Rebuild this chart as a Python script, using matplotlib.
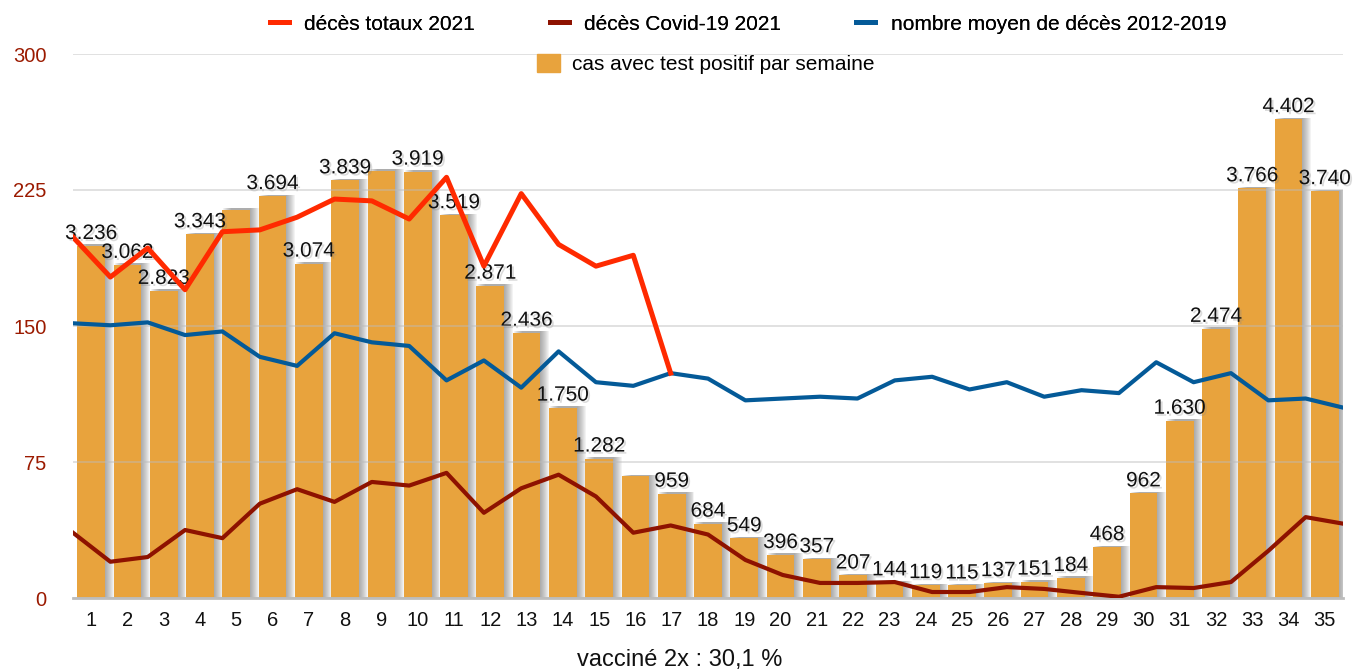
import matplotlib.pyplot as plt
from matplotlib.lines import Line2D
from matplotlib.patches import Patch
import matplotlib.patheffects as pe

plt.rcParams['font.family'] = ['Liberation Sans', 'DejaVu Sans']

# semaines 1..35
semaines = list(range(1, 36))

# cas avec test positif par semaine (barres, échelle cachée 0-5000)
cas = [3236, 3062, 2823, 3343, 3570, 3694, 3074, 3839, 3925, 3919,
       3519, 2871, 2436, 1750, 1282, 1120, 959, 684, 549, 396,
       357, 207, 144, 119, 115, 137, 151, 184, 468, 962,
       1630, 2474, 3766, 4402, 3740]
# étiquettes absentes sur le graphique d'origine
sans_etiquette = [5, 9, 16]

# décès totaux 2021 (s'arrête à la semaine 17)
deces_totaux = [199, 177, 193, 170, 202, 203, 210, 220, 219, 209,
                232, 183, 223, 195, 183, 189, 124]
# décès Covid-19 2021
deces_covid = [36, 20, 22.6, 37.5, 33, 52, 60, 53, 64, 62,
               69, 47, 60.5, 68, 56, 36, 40, 35, 21, 12.7,
               8.3, 8.3, 8.8, 3.3, 3.3, 6, 5, 2.8, 0.7, 6,
               5.5, 8.8, 26, 44.6, 41]
# nombre moyen de décès 2012-2019
deces_moyen = [151.5, 150.4, 152, 145, 147, 133, 128, 146, 141, 139,
               120, 131, 116, 136, 119, 117, 124, 121, 109, 110,
               111, 110, 120, 122, 115, 119, 111, 114.6, 113, 130,
               119, 124, 109, 110, 105]

c_rouge = '#ff2a00'
c_bordeaux = '#8e1200'
c_bleu = '#045a98'
c_barre = '#e8a33d'
c_axe = '#9b1a00'

fig = plt.figure(figsize=(13.53, 6.70), dpi=100)
pos = [73 / 1353, 1 - 598 / 670, 1270 / 1353, 544 / 670]

# --- barres ---
ax_b = fig.add_axes(pos)
largeur = 0.76
px = 1 / 36.3  # un pixel en unités x
py = 5000 / 544  # un pixel en unités y
for k in range(1, 10):
    ax_b.bar([s + k * px for s in semaines], [c + 1.5 * py for c in cas],
             width=largeur, color='#555555', alpha=0.065, zorder=1, lw=0)
ax_b.bar(semaines, cas, width=largeur, color=c_barre, zorder=2, lw=0)

for s, c in zip(semaines, cas):
    if s in sans_etiquette:
        continue
    txt = f"{c:,}".replace(',', '.')
    ax_b.annotate(txt, (s, c), xytext=(0, 5), textcoords='offset points',
                  ha='center', va='baseline', fontsize=15, color='#111111',
                  zorder=5,
                  path_effects=[pe.withSimplePatchShadow(offset=(1.5, -1.5),
                                                         shadow_rgbFace='#888888',
                                                         alpha=0.3)])

ax_b.set_xlim(0.5, 35.5)
ax_b.set_ylim(0, 5000)
ax_b.set_xticks(semaines)
ax_b.set_xticklabels([str(s) for s in semaines], fontsize=14.5, color='#111111')
ax_b.tick_params(axis='x', length=0, pad=9)
ax_b.set_yticks([])
for sp in ['top', 'right', 'left']:
    ax_b.spines[sp].set_visible(False)
ax_b.spines['bottom'].set_color('#bdbdbd')
ax_b.spines['bottom'].set_linewidth(2)
ax_b.spines['bottom'].set_zorder(3)

# --- courbes ---
ax_l = fig.add_axes(pos, facecolor='none')
ax_l.set_xlim(0, 34)
ax_l.set_ylim(0, 300)
x_lignes = list(range(35))
ax_l.plot(x_lignes, deces_moyen, color=c_bleu, lw=3.0, zorder=3)
ax_l.plot(x_lignes, deces_covid, color=c_bordeaux, lw=3.0, zorder=3)
ax_l.plot(x_lignes[:len(deces_totaux)], deces_totaux, color=c_rouge, lw=3.6, zorder=4)

ax_l.set_yticks([0, 75, 150, 225, 300])
ax_l.set_yticklabels(['0', '75', '150', '225', '300'], fontsize=14.5, color=c_axe)
ax_l.tick_params(axis='y', length=0, pad=19)
ax_l.set_xticks([])
ax_l.grid(axis='y', color='#bbbbbb', alpha=0.45, lw=1.4)
for sp in ax_l.spines.values():
    sp.set_visible(False)

# --- légendes ---
h_lignes = [Line2D([], [], color=c_rouge, lw=3.5),
            Line2D([], [], color=c_bordeaux, lw=3.5),
            Line2D([], [], color=c_bleu, lw=3.5)]
leg1 = fig.legend(h_lignes, ['décès totaux 2021', 'décès Covid-19 2021',
                             'nombre moyen de décès 2012-2019'],
                  loc='center', bbox_to_anchor=(748 / 1353, 1 - 24 / 670),
                  ncol=3, frameon=False, fontsize=15, handlelength=0.9,
                  handletextpad=0.75, columnspacing=3.6)
leg2 = fig.legend([Patch(color=c_barre)], ['cas avec test positif par semaine'],
                  loc='center', bbox_to_anchor=(706 / 1353, 1 - 64 / 670),
                  frameon=False, fontsize=15, handlelength=1.1,
                  handleheight=0.95, handletextpad=0.6)
fig.add_artist(leg1)

fig.text(680 / 1353, 1 - 660 / 670, 'vacciné 2x : 30,1 %', ha='center',
         va='center', fontsize=17, color='#111111')

fig.savefig('out.png', dpi=100)
